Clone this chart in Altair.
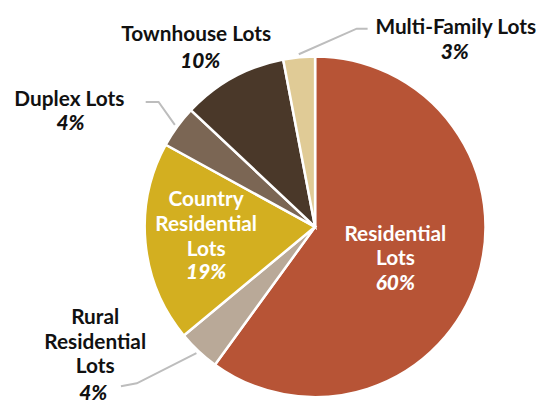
import math
import altair as alt
import pandas as pd

# ---- data ----
categories = ["Residential Lots", "Rural Residential Lots", "Country Residential Lots",
              "Duplex Lots", "Townhouse Lots", "Multi-Family Lots"]
shares = [60, 4, 19, 4, 10, 3]
name_text = ["Residential\nLots", "Rural\nResidential\nLots", "Country\nResidential\nLots",
             "Duplex Lots", "Townhouse Lots", "Multi-Family Lots"]
pct_text = ["60%", "4%", "19%", "4%", "10%", "3%"]

# ---- style / layout ----
colors = ["#B75436", "#B9A998", "#D3AF20", "#7B6654", "#4A3829", "#E0CB96"]
text_colors = ["white", "#111111", "white", "#111111", "#111111", "#111111"]
CX, CY, R = 310, 219, 172
# name x, name first baseline, pct x, pct baseline (pixels in view)
label_layout = [
    (391, 233, 391, 283),
    (88, 317, 86, 394),
    (200, 198, 200, 272),
    (62, 97, 63, 121),
    (190, 31, 194, 59),
    (452, 24, 451, 50),
]
# leader elbows / ends for outside labels (pixels in view)
leader_layout = {
    "Rural Residential Lots": [(130, 377), (114, 380)],
    "Duplex Lots": [(152, 93), (139, 93)],
    "Multi-Family Lots": [(352, 19), (363, 19)],
}
LEADER_R = 175
FONT = "Lato"

df = pd.DataFrame({"category": categories, "share": shares, "order": list(range(len(categories)))})

pie = alt.Chart(df).mark_arc(outerRadius=R, stroke="white", strokeWidth=2.5).encode(
    theta=alt.Theta("share:Q", stack=True),
    order=alt.Order("order:Q"),
    color=alt.Color("category:N", scale=alt.Scale(domain=categories, range=colors), legend=None),
    x=alt.value(CX),
    y=alt.value(CY),
)

# labels
lab = pd.DataFrame({
    "category": categories,
    "name": name_text,
    "pct": pct_text,
    "tcolor": text_colors,
    "nx": [l[0] for l in label_layout],
    "ny": [l[1] for l in label_layout],
    "px": [l[2] for l in label_layout],
    "py": [l[3] for l in label_layout],
})

names = alt.Chart(lab).mark_text(
    font=FONT, fontSize=21, fontWeight="bold", align="center", baseline="alphabetic",
    lineBreak="\n", lineHeight=25,
).encode(
    x=alt.X("nx:Q", scale=None, axis=None),
    y=alt.Y("ny:Q", scale=None, axis=None),
    text="name:N",
    color=alt.Color("tcolor:N", scale=None),
)

pcts = alt.Chart(lab).mark_text(
    font=FONT, fontSize=21, fontWeight=900, fontStyle="italic", align="center",
    baseline="alphabetic",
).encode(
    x=alt.X("px:Q", scale=None, axis=None),
    y=alt.Y("py:Q", scale=None, axis=None),
    text="pct:N",
    color=alt.Color("tcolor:N", scale=None),
)

# leader lines: start at the slice's mid angle, derived from the data
total = sum(shares)
rows = []
cum = 0
for cat, v in zip(categories, shares):
    mid = (cum + v / 2) / total * 2 * math.pi
    cum += v
    if cat in leader_layout:
        sx = CX + LEADER_R * math.sin(mid)
        sy = CY - LEADER_R * math.cos(mid)
        pts = [(sx, sy)] + leader_layout[cat]
        for i, (px, py) in enumerate(pts):
            rows.append({"category": cat, "seq": i, "lx": px, "ly": py})
lead_df = pd.DataFrame(rows)

leaders = alt.Chart(lead_df).mark_line(color="#BDBDBD", strokeWidth=2).encode(
    x=alt.X("lx:Q", scale=None, axis=None),
    y=alt.Y("ly:Q", scale=None, axis=None),
    detail="category:N",
    order="seq:Q",
)

chart = alt.layer(pie, leaders, names, pcts).properties(
    width=529, height=398, padding=0, background="white"
).configure_view(stroke=None)

chart.save("out.html", embed_options={"renderer": "svg", "actions": False})
